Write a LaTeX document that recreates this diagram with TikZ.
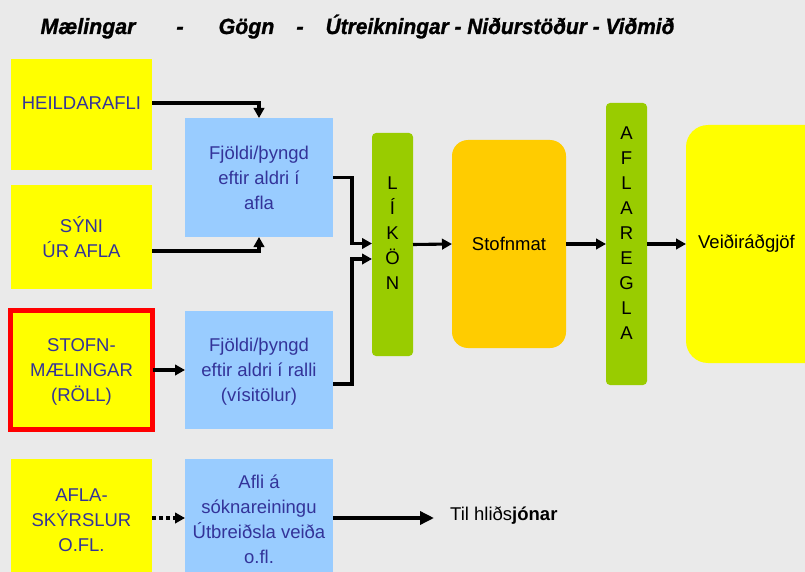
\documentclass[tikz,border=0pt]{standalone}
\usepackage{fontspec}
\setmainfont{Liberation Sans}
\newfontfamily\ttlfont[FakeBold=1.2]{Liberation Sans Bold Italic}
\usetikzlibrary{arrows.meta,calc}
\definecolor{bg}{RGB}{234,234,234}
\definecolor{ylw}{RGB}{255,255,0}
\definecolor{lblue}{RGB}{153,204,255}
\definecolor{grn}{RGB}{153,204,0}
\definecolor{org}{RGB}{255,204,0}
\definecolor{txtb}{RGB}{51,51,153}
\begin{document}
\begin{tikzpicture}[x=1pt,y=-1pt,
 box/.style={draw=none,inner sep=0pt,outer sep=0pt},
 btxt/.style={text=txtb,font=\fontsize{18.5}{25}\selectfont,align=center,inner sep=0pt},
 ktxt/.style={text=black,font=\fontsize{18.5}{25}\selectfont,align=center,inner sep=0pt},
 ttl/.style={text=black,font=\fontsize{22}{26}\selectfont\ttlfont,inner sep=0pt,anchor=base},
 arr/.style={line width=3.1pt,-{Triangle[length=10pt,width=10.5pt]}},
]
\useasboundingbox (0,0) rectangle (805,572);
\clip (0,0) rectangle (805,572);
\fill[bg] (0,0) rectangle (805,572);

% title
\node[ttl] (t1) at (88,34) {\scalebox{0.97}[1]{Mælingar}};
\node[ttl] (t2) at (180,34) {-};
\node[ttl] (t3) at (246.5,34) {\scalebox{0.97}[1]{Gögn}};
\node[ttl] (t4) at (300,34) {-};
\node[ttl] (t5) at (500,34) {\scalebox{0.95}[1]{Útreikningar - Niðurstöður - Viðmið}};

% left column
\node[box,fill=ylw,minimum width=141pt,minimum height=111pt] (heil) at (81.5,114.5) {};
\node[btxt] (heilt) at (81.5,103) {HEILDARAFLI};
\node[box,fill=ylw,minimum width=141pt,minimum height=104pt] (syni) at (81.5,237) {};
\node[btxt] (synit) at (81.5,237) {SÝNI\\ÚR AFLA};
\node[box,fill=ylw,draw=red,line width=5pt,minimum width=142pt,minimum height=119pt] (roll) at (81.5,370) {};
\node[btxt] (rollt) at (81.5,372) {STOFN-\\MÆLINGAR\\(RÖLL)};
\node[box,fill=ylw,minimum width=141pt,minimum height=118pt] (afla) at (81.5,518) {};
\node[btxt] (aflat) at (81.5,520) {AFLA-\\SKÝRSLUR\\O.FL.};

% blue column
\node[box,fill=lblue,minimum width=148pt,minimum height=119pt] (fjA) at (259,177.5) {};
\node[btxt] (fjAt) at (259,178) {Fjöldi/þyngd\\eftir aldri í\\afla};
\node[box,fill=lblue,minimum width=148pt,minimum height=118pt] (fjR) at (259,370) {};
\node[btxt] (fjRt) at (259,372) {Fjöldi/þyngd\\eftir aldri í ralli\\(vísitölur)};
\node[box,fill=lblue,minimum width=148pt,minimum height=118pt] (afli) at (259,518) {};
\node[btxt] (aflit) at (259,519.5) {Afli á\\sóknareiningu\\Útbreiðsla veiða\\o.fl.};

% right part
\node[box,fill=grn,rounded corners=4pt,minimum width=41pt,minimum height=223pt] (likon) at (392.5,244.5) {};
\node[ktxt] (likont) at (392.5,233) {L\\Í\\K\\Ö\\N};
\node[box,fill=org,rounded corners=16pt,minimum width=114pt,minimum height=208pt] (stofn) at (509,244) {};
\node[ktxt] (stofnt) at (509,244) {Stofnmat};
\node[box,fill=grn,rounded corners=4pt,minimum width=41pt,minimum height=282pt] (aflar) at (626.5,244) {};
\node[ktxt] (aflart) at (626.5,233) {A\\F\\L\\A\\R\\E\\G\\L\\A};
\node[box,fill=ylw,rounded corners=22pt,minimum width=144pt,minimum height=238pt] (veid) at (758,244) {};
\node[ktxt] (veidt) at (746.5,244) {Veiðiráðgjöf};

\node[ktxt,anchor=west] (til) at (450,516) {Til hliðs\textbf{jónar}};

% connectors
\draw[arr] (heil.east |- heilt) -| (fjA.north);
\draw[arr] ([yshift=-14pt]syni.east) -| (fjA.south);
\draw[arr] (fjA.east) -- ++(19,0) |- ([yshift=1pt]likon.west);
\draw[arr] ([yshift=-14pt]fjR.east) -- ++(19,0) |- ([yshift=-14.5pt]likon.west);
\draw[arr] (roll.east) -- (fjR.west);
\draw[arr] (likon.east) -- (stofn.west);
\draw[arr] (stofn.east) -- (aflar.west);
\draw[arr] (aflar.east) -- (veid.west);
\draw[arr,dash pattern=on 4pt off 3pt] (afla.east) -- (afli.west);
\draw[line width=3.4pt,-{Triangle[length=14pt,width=13pt]}] (afli.east) -- ([xshift=-16pt]til.west |- afli.east);
\end{tikzpicture}
\end{document}
